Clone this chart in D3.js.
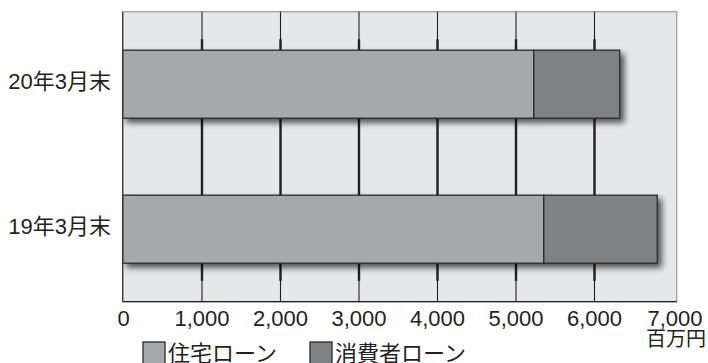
<!DOCTYPE html>
<html><head><meta charset="utf-8">
<script src="https://cdn.jsdelivr.net/npm/d3@7"></script>
<style>
html,body{margin:0;padding:0;background:#fff;}
text{font-family:"Liberation Sans","Noto Sans CJK JP",sans-serif;fill:#231f20;}
</style></head>
<body>
<svg id="c" width="708" height="363"></svg>
<script>
const categories = ["20年3月末", "19年3月末"];
const seriesNames = ["住宅ローン", "消費者ローン"];
const housing = [5227, 5354];
const consumer = [1095, 1445];
const tickValues = [0, 1000, 2000, 3000, 4000, 5000, 6000, 7000];
const unitLabel = "百万円";

(function(){
const svg = d3.select("#c");
const pL = 122.7, pR = 676.7, pT = 11.7, pB = 301.7;
const x = d3.scaleLinear().domain([0, 7000]).range([123.5, 673]);
const y = d3.scaleBand().domain(categories).range([pT, pB]).paddingInner(0.531).paddingOuter(0.2655);

const defs = svg.append("defs");
const f = defs.append("filter").attr("id","sh").attr("x","-10%").attr("y","-30%").attr("width","130%").attr("height","180%");
f.append("feGaussianBlur").attr("in","SourceAlpha").attr("stdDeviation",3).attr("result","b");
f.append("feOffset").attr("in","b").attr("dx",4).attr("dy",4).attr("result","o");
f.append("feComponentTransfer").attr("in","o").attr("result","o2").append("feFuncA").attr("type","linear").attr("slope",0.65);
const m = f.append("feMerge");
m.append("feMergeNode").attr("in","o2");
m.append("feMergeNode").attr("in","SourceGraphic");

svg.append("rect").attr("x",pL).attr("y",pT).attr("width",pR-pL).attr("height",pB-pT)
  .attr("fill","#e6e7e9").attr("stroke","#9a9a9c").attr("stroke-width",1.2);

const inner = tickValues.filter(v => v > 0 && v < 7000);
svg.append("g").selectAll("line").data(inner).join("line")
  .attr("x1",d=>x(d)).attr("x2",d=>x(d)).attr("y1",pT).attr("y2",pB)
  .attr("stroke","#231f20").attr("stroke-width",1.1);
const c0 = categories[0], c1 = categories[categories.length-1];
svg.append("g").selectAll("line").data(inner).join("line")
  .attr("x1",d=>x(d)).attr("x2",d=>x(d))
  .attr("y1",y(c0)-11).attr("y2",y(c1)+y.bandwidth()+17.7)
  .attr("stroke","#231f20").attr("stroke-width",2.4);

const rows = categories.map((c,i)=>({c, h:housing[i], s:consumer[i]}));
const bars = svg.append("g").selectAll("g").data(rows).join("g").attr("filter","url(#sh)");
bars.append("rect").attr("x",x(0)-0.8).attr("y",d=>y(d.c)).attr("width",d=>x(d.h)-x(0)+0.8).attr("height",y.bandwidth())
  .attr("fill","#a7a8ab").attr("stroke","#2b2a2b").attr("stroke-width",1.3);
bars.append("rect").attr("x",d=>x(d.h)).attr("y",d=>y(d.c)).attr("width",d=>x(d.h+d.s)-x(d.h)).attr("height",y.bandwidth())
  .attr("fill","#808184").attr("stroke","#2b2a2b").attr("stroke-width",1.3);

svg.append("line").attr("x1",pL).attr("x2",pL).attr("y1",pT).attr("y2",pB).attr("stroke","#3a3a3a").attr("stroke-width",1.3);
svg.append("line").attr("x1",pL).attr("x2",pR).attr("y1",pB).attr("y2",pB).attr("stroke","#231f20").attr("stroke-width",1.3);

svg.append("g").selectAll("text").data(categories).join("text")
  .attr("x",111).attr("y",d=>y(d)+y.bandwidth()/2-3).attr("dy","0.35em")
  .attr("text-anchor","end").attr("font-size",22).text(d=>d);

svg.append("g").selectAll("text").data(tickValues).join("text")
  .attr("x",d=>x(d)+(d===7000?2:0)).attr("y",326).attr("text-anchor","middle").attr("font-size",22)
  .text(d=>d3.format(",")(d));
svg.append("text").attr("x",706).attr("y",346).attr("text-anchor","end").attr("font-size",20).text(unitLabel);

const legX = [143, 310];
const leg = svg.append("g").selectAll("g").data(seriesNames).join("g");
leg.append("rect").attr("x",(d,i)=>legX[i]).attr("y",342).attr("width",22).attr("height",24)
  .attr("fill",(d,i)=>i===0?"#a7a8ab":"#808184").attr("stroke","#2b2a2b").attr("stroke-width",1.3);
leg.append("text").attr("x",(d,i)=>legX[i]+25).attr("y",361).attr("font-size",22).text(d=>d);
})();
</script>
</body></html>
